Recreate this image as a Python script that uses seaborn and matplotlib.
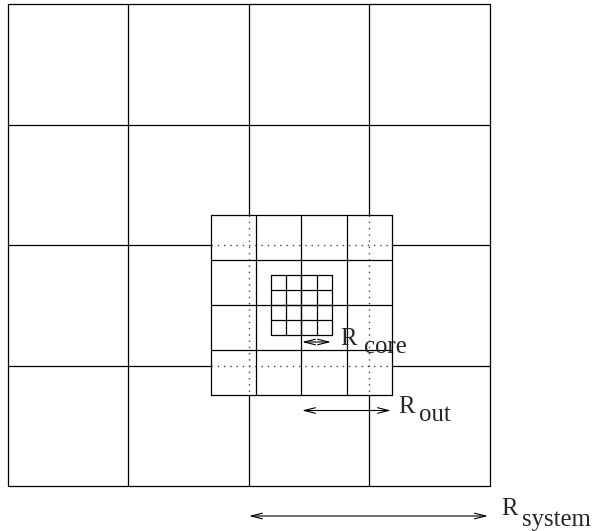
import numpy as np
import pandas as pd
import matplotlib.pyplot as plt
import seaborn as sns
from matplotlib.patches import Rectangle

# grid line positions (pixel coords of the picture)
outer_x = [7.5, 128, 248.5, 369, 489.5]
outer_y = [4, 124.5, 245, 365.5, 486]
mid_x = [211, 256, 301, 346.5, 392]
mid_y = [215, 260, 305, 350, 395]
inner_x = [271, 286, 301, 316.5, 332]
inner_y = [274.5, 289.5, 305, 320, 335]

# arrows and their labels
arrow_names = ['core', 'out', 'system']
arrow_x0 = [302, 302, 249]
arrow_x1 = [331, 391, 488]
arrow_y = [342, 410.5, 516]
label_x = [340, 398, 501]
label_base = [345, 413, 515]
sub_x = [364, 419, 522]
sub_base = [353, 421, 526]


def grid_segments(xs, ys, tag):
    rows = []
    k = 0
    for x in xs:
        rows.append((f'{tag}{k}', x, ys[0]))
        rows.append((f'{tag}{k}', x, ys[-1]))
        k += 1
    for y in ys:
        rows.append((f'{tag}{k}', xs[0], y))
        rows.append((f'{tag}{k}', xs[-1], y))
        k += 1
    return pd.DataFrame(rows, columns=['seg', 'x', 'y'])


sns.set_style('white')
plt.rcParams['font.family'] = ['Liberation Serif', 'DejaVu Serif']

fig = plt.figure(figsize=(5.92, 5.31), dpi=100)
ax = fig.add_axes([0, 0, 1, 1])

outer = grid_segments(outer_x, outer_y, 'o')
sns.lineplot(data=outer, x='x', y='y', units='seg', estimator=None, sort=False,
             color='black', lw=0.9, ax=ax, zorder=2)

# white out the middle box, outer lines show dotted through it
ax.add_patch(Rectangle((mid_x[0], mid_y[0]), mid_x[-1] - mid_x[0], mid_y[-1] - mid_y[0],
                       facecolor='white', edgecolor='none', zorder=2.5))
dot_rows = []
for i, x in enumerate([v for v in outer_x if mid_x[0] < v < mid_x[-1]]):
    dot_rows += [(f'dv{i}', x, mid_y[0]), (f'dv{i}', x, mid_y[-1])]
for i, y in enumerate([v for v in outer_y if mid_y[0] < v < mid_y[-1]]):
    dot_rows += [(f'dh{i}', mid_x[0], y), (f'dh{i}', mid_x[-1], y)]
dots = pd.DataFrame(dot_rows, columns=['seg', 'x', 'y'])
sns.lineplot(data=dots, x='x', y='y', units='seg', estimator=None, sort=False,
             color='#444444', lw=1.0, linestyle=(0, (1, 3.5)), ax=ax, zorder=3)

mid = grid_segments(mid_x, mid_y, 'm')
sns.lineplot(data=mid, x='x', y='y', units='seg', estimator=None, sort=False,
             color='black', lw=0.9, ax=ax, zorder=3)
inner = grid_segments(inner_x, inner_y, 'i')
sns.lineplot(data=inner, x='x', y='y', units='seg', estimator=None, sort=False,
             color='black', lw=0.9, ax=ax, zorder=4)

fs = 17.8
for i, name in enumerate(arrow_names):
    y = arrow_y[i]
    ax.annotate('', xy=(arrow_x1[i], y), xytext=(arrow_x0[i], y),
                arrowprops=dict(arrowstyle='<->,head_length=0.8,head_width=0.2',
                                color='black', lw=0.8, shrinkA=0, shrinkB=0), zorder=5)
    ax.text(label_x[i], label_base[i], 'R', fontsize=fs, ha='left', va='baseline', zorder=5)
    ax.text(sub_x[i], sub_base[i], name, fontsize=fs, ha='left', va='baseline', zorder=5)

ax.set_xlim(0, 592)
ax.set_ylim(531, 0)
ax.set_axis_off()
fig.savefig('out.png', dpi=100)
